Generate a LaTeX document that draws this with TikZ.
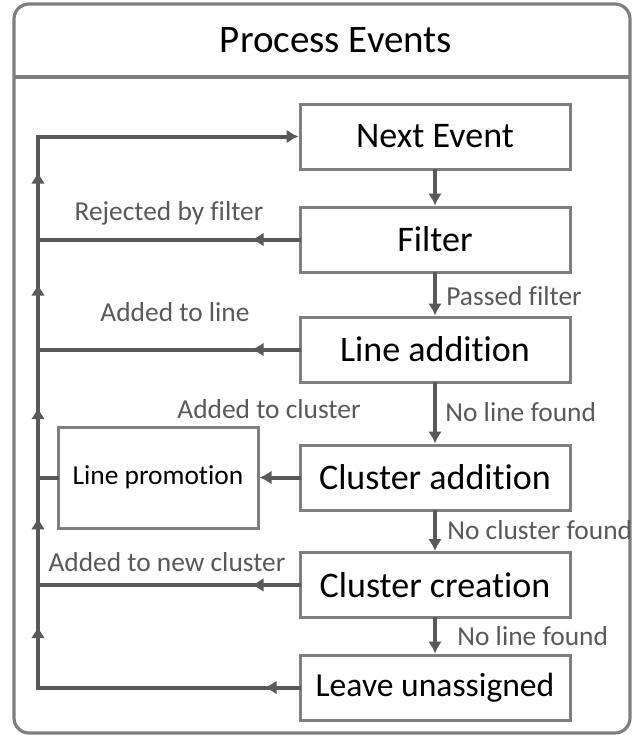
\documentclass[tikz,border=0pt]{standalone}
\usepackage{fontspec}
\setmainfont{Carlito}[Ligatures=NoCommon]
\usetikzlibrary{arrows.meta,decorations.markings}
\definecolor{rahmengrau}{HTML}{7F7F7F}
\definecolor{pfeilgrau}{HTML}{595959}

\tikzset{
	kasten/.style={draw=rahmengrau,line width=1.5pt,minimum width=135pt,minimum height=32.5pt,inner sep=0pt,font=\fontsize{18}{20}\selectfont},
	pfeil/.style={draw=pfeilgrau,line width=2pt,line cap=rect},
	marke/.style={postaction={decorate},decoration={markings,mark=at position #1 with {\arrow{Latex[length=6pt,width=7pt]}}}},
	beschriftung/.style={text=pfeilgrau,font=\fontsize{13.7}{15}\selectfont,inner sep=0pt}
}

\def\kasten#1#2#3{
	\node[kasten] (#1) at #2 {#3};
}
\def\kante#1#2{
	\draw[pfeil,->] (#1) -- (#2);
}
\def\rueck#1#2#3{
	\draw[pfeil,marke=#3] (#1) -- (#2);
}

\begin{document}
\begin{tikzpicture}[x=0.5pt,y=-0.5pt,>={Latex[length=6pt,width=7pt]}]
\useasboundingbox (0,0) rectangle (633,735);
\draw[rahmengrau,line width=1.6pt,rounded corners=7.5pt] (14,4) rectangle (630,733);
\draw[rahmengrau,line width=1.6pt] (14,77) -- (630,77);
\node[font=\fontsize{19.5}{22}\selectfont] (titel) at (336,40) {Process Events};

\kasten{next}{(435,136.5)}{Next Event}
\kasten{filter}{(435,239.5)}{Filter}
\kasten{ladd}{(435,349.5)}{Line addition}
\kasten{cadd}{(435,477.5)}{Cluster addition}
\kasten{ccre}{(435,585)}{Cluster creation}
\kasten{leave}{(435,687.5)}{\fontsize{16.8}{19}\selectfont Leave unassigned}
\node[kasten,minimum width=100pt,minimum height=50.5pt,font=\fontsize{13.7}{15}\selectfont] (lprom) at (158,477.5) {Line promotion};

\coordinate (l1) at (38,136.5);
\coordinate (l2) at (38,239.5);
\coordinate (l3) at (38,349.5);
\coordinate (l4) at (38,477.5);
\coordinate (l5) at (38,585);
\coordinate (l6) at (38,687.5);

\kante{next}{filter}
\kante{filter}{ladd}
\kante{ladd}{cadd}
\kante{cadd}{ccre}
\kante{ccre}{leave}
\kante{l1}{next}
\kante{cadd}{lprom}

\rueck{filter}{l2}{23.5pt}
\rueck{ladd}{l3}{23.5pt}
\rueck{ccre}{l5}{23.5pt}
\rueck{leave}{l6}{17pt}
\draw[pfeil] (lprom) -- (l4);

\rueck{l6}{l5}{0.6}
\rueck{l5}{l4}{0.63}
\rueck{l4}{l3}{0.55}
\rueck{l3}{l2}{0.6}
\rueck{l2}{l1}{0.66}

\node[beschriftung] (t1) at (169,213) {Rejected by filter};
\node[beschriftung] (t2) at (175,312) {Added to line};
\node[beschriftung,anchor=west] (t3) at (446,296) {Passed filter};
\node[beschriftung] (t4) at (269,409) {Added to cluster};
\node[beschriftung,anchor=west] (t5) at (445,412) {No line found};
\node[beschriftung,anchor=west] (t6) at (447,530) {No cluster found};
\node[beschriftung] (t7) at (167,562) {Added to new cluster};
\node[beschriftung,anchor=west] (t8) at (457,636) {No line found};
\end{tikzpicture}
\end{document}
